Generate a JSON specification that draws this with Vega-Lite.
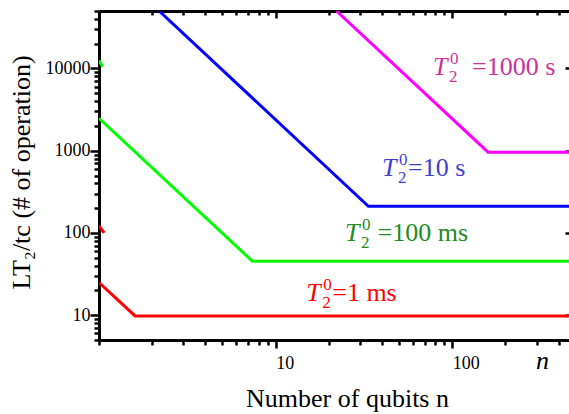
{
  "$schema": "https://vega.github.io/schema/vega-lite/v6.json",
  "width": 470,
  "height": 329,
  "autosize": "none",
  "padding": {"left": 99, "top": 11, "right": 0, "bottom": 74},
  "config": {"view": {"stroke": null}, "font": "Liberation Serif"},
  "datasets": {
    "lines": [
      {"series": "1 ms", "seg": "a", "n": 1, "v": 25},
      {"series": "1 ms", "seg": "a", "n": 1.6, "v": 9.8},
      {"series": "1 ms", "seg": "a", "n": 458, "v": 9.8},
      {"series": "1 ms", "seg": "b", "n": 1, "v": 122},
      {"series": "1 ms", "seg": "b", "n": 1.07, "v": 100},
      {"series": "100 ms", "seg": "a", "n": 1, "v": 2480},
      {"series": "100 ms", "seg": "a", "n": 7.39, "v": 45.4},
      {"series": "100 ms", "seg": "a", "n": 458, "v": 45.4},
      {"series": "100 ms", "seg": "b", "n": 1, "v": 12500},
      {"series": "100 ms", "seg": "b", "n": 1.05, "v": 10500},
      {"series": "10 s", "seg": "a", "n": 2.19, "v": 50000},
      {"series": "10 s", "seg": "a", "n": 33.5, "v": 211},
      {"series": "10 s", "seg": "a", "n": 458, "v": 211},
      {"series": "1000 s", "seg": "a", "n": 22.1, "v": 50000},
      {"series": "1000 s", "seg": "a", "n": 159.5, "v": 960},
      {"series": "1000 s", "seg": "a", "n": 458, "v": 960}
    ],
    "labels": [
      {"series": "1000 s", "n": 77.9, "v": 8280, "rest": "\u2060\u00a0\u00a0=1000 s"},
      {"series": "10 s", "n": 40, "v": 490, "rest": "=10 s"},
      {"series": "100 ms", "n": 24.7, "v": 79.4, "rest": "\u2060\u00a0=100 ms"},
      {"series": "1 ms", "n": 14.9, "v": 14.8, "rest": "=1 ms"}
    ]
  },
  "layer": [
    {
      "data": {"name": "lines"},
      "mark": {"type": "line", "strokeWidth": 3, "clip": true},
      "encoding": {
        "x": {
          "field": "n", "type": "quantitative",
          "scale": {"type": "log", "domain": [1, 458], "nice": false},
          "axis": {
            "orient": "bottom",
            "values": [1, 2, 3, 4, 5, 6, 7, 8, 9, 10, 20, 30, 40, 50, 60, 70, 80, 90, 100, 200, 300, 400],
            "labelExpr": "datum.value == 10 ? '10' : datum.value == 100 ? '100' : ''",
            "labelOverlap": false,
            "labelFlush": false,
            "labelAlign": "left",
            "labelBaseline": "alphabetic",
            "labelPadding": 20,
            "labelFontSize": 18,
            "labelColor": "black",
            "grid": false,
            "domainColor": "black",
            "domainWidth": 3,
            "tickColor": "black",
            "tickWidth": 2.5,
            "tickSize": {"condition": {"test": "datum.value == 10 || datum.value == 100", "value": 8}, "value": 5},
            "title": "Number of qubits n",
            "titleFontSize": 26,
            "titleFontWeight": "normal",
            "titleColor": "black",
            "titleX": 248,
            "titleY": 66,
            "titleBaseline": "alphabetic",
            "titleAlign": "center"
          }
        },
        "y": {
          "field": "v", "type": "quantitative",
          "scale": {"type": "log", "domain": [5, 50000], "nice": false},
          "axis": {
            "orient": "left",
            "values": [5, 6, 7, 8, 9, 10, 20, 30, 40, 50, 60, 70, 80, 90, 100, 200, 300, 400, 500, 600, 700, 800, 900, 1000, 2000, 3000, 4000, 5000, 6000, 7000, 8000, 9000, 10000, 20000, 30000, 40000, 50000],
            "labelExpr": "datum.value == 10 ? '10' : datum.value == 100 ? '100' : datum.value == 1000 ? '1000' : datum.value == 10000 ? '10000' : ''",
            "labelOverlap": false,
            "labelFlush": false,
            "labelFontSize": 18,
            "labelColor": "black",
            "labelPadding": 0,
            "grid": false,
            "domainColor": "black",
            "domainWidth": 3,
            "tickColor": "black",
            "tickWidth": 2.5,
            "tickSize": {"condition": {"test": "datum.value == 10 || datum.value == 100 || datum.value == 1000 || datum.value == 10000", "value": 9}, "value": 5},
            "title": "LT\u2082/tc (# of operation)",
            "titleFontSize": 26,
            "titleFontWeight": "normal",
            "titleColor": "black",
            "titleAngle": -90,
            "titleX": -70,
            "titleY": 161,
            "titleBaseline": "alphabetic",
            "titleAlign": "center"
          }
        },
        "color": {
          "field": "series", "type": "nominal", "legend": null,
          "scale": {"domain": ["1 ms", "100 ms", "10 s", "1000 s"], "range": ["#ff0000", "#00ff00", "#0000ff", "#ff00ff"]}
        },
        "detail": {"field": "seg"}
      }
    },
    {
      "data": {"name": "lines"},
      "mark": {"type": "point", "opacity": 0},
      "encoding": {
        "x": {
          "field": "n", "type": "quantitative",
          "scale": {"type": "log", "domain": [1, 458], "nice": false},
          "axis": {
            "orient": "top",
            "values": [1, 2, 3, 4, 5, 6, 7, 8, 9, 10, 20, 30, 40, 50, 60, 70, 80, 90, 100, 200, 300, 400],
            "labels": false,
            "grid": false,
            "domainColor": "black",
            "domainWidth": 3,
            "tickColor": "black",
            "tickWidth": 2.5,
            "tickSize": {"condition": {"test": "datum.value == 10 || datum.value == 100", "value": -7}, "value": -4},
            "title": null
          }
        },
        "y": {
          "field": "v", "type": "quantitative",
          "scale": {"type": "log", "domain": [5, 50000], "nice": false},
          "axis": {
            "orient": "right",
            "values": [10, 100, 1000, 10000],
            "labels": false,
            "domain": false,
            "grid": false,
            "tickColor": "black",
            "tickWidth": 2.5,
            "tickSize": -4,
            "title": null
          }
        }
      }
    },
    {
      "data": {"name": "lines"},
      "mark": {"type": "point", "opacity": 0},
      "encoding": {
        "x": {
          "field": "n", "type": "quantitative",
          "scale": {"type": "log", "domain": [1, 458], "nice": false},
          "axis": {
            "orient": "bottom",
            "values": [322],
            "labelExpr": "'n'",
            "labelFontSize": 26,
            "labelFontStyle": "italic",
            "labelColor": "black",
            "labelBaseline": "alphabetic",
            "labelPadding": 28,
            "labelFlush": false,
            "labelOverlap": false,
            "tickSize": 0,
            "ticks": false,
            "domain": false,
            "grid": false,
            "title": null
          }
        },
        "y": {"field": "v", "type": "quantitative", "scale": {"type": "log", "domain": [5, 50000], "nice": false}, "axis": null}
      }
    },
    {
      "data": {"name": "labels"},
      "mark": {"type": "text", "text": "T", "fontStyle": "italic", "fontSize": 26, "align": "left", "baseline": "alphabetic"},
      "encoding": {
        "x": {"field": "n", "type": "quantitative", "scale": {"type": "log", "domain": [1, 458], "nice": false}, "axis": null},
        "y": {"field": "v", "type": "quantitative", "scale": {"type": "log", "domain": [5, 50000], "nice": false}, "axis": null},
        "color": {"field": "series", "type": "nominal", "legend": null,
          "scale": {"domain": ["1 ms", "100 ms", "10 s", "1000 s"], "range": ["#ff0000", "#228b22", "#3f3fcf", "#cc3399"]}}
      }
    },
    {
      "data": {"name": "labels"},
      "mark": {"type": "text", "text": "2", "fontSize": 17, "align": "left", "baseline": "alphabetic", "dx": 16, "dy": 7},
      "encoding": {
        "x": {"field": "n", "type": "quantitative", "scale": {"type": "log", "domain": [1, 458], "nice": false}, "axis": null},
        "y": {"field": "v", "type": "quantitative", "scale": {"type": "log", "domain": [5, 50000], "nice": false}, "axis": null},
        "color": {"field": "series", "type": "nominal", "legend": null,
          "scale": {"domain": ["1 ms", "100 ms", "10 s", "1000 s"], "range": ["#ff0000", "#228b22", "#3f3fcf", "#cc3399"]}}
      }
    },
    {
      "data": {"name": "labels"},
      "mark": {"type": "text", "text": "0", "fontSize": 17, "align": "left", "baseline": "alphabetic", "dx": 17, "dy": -11},
      "encoding": {
        "x": {"field": "n", "type": "quantitative", "scale": {"type": "log", "domain": [1, 458], "nice": false}, "axis": null},
        "y": {"field": "v", "type": "quantitative", "scale": {"type": "log", "domain": [5, 50000], "nice": false}, "axis": null},
        "color": {"field": "series", "type": "nominal", "legend": null,
          "scale": {"domain": ["1 ms", "100 ms", "10 s", "1000 s"], "range": ["#ff0000", "#228b22", "#3f3fcf", "#cc3399"]}}
      }
    },
    {
      "data": {"name": "labels"},
      "mark": {"type": "text", "fontSize": 26, "align": "left", "baseline": "alphabetic", "dx": 26},
      "encoding": {
        "x": {"field": "n", "type": "quantitative", "scale": {"type": "log", "domain": [1, 458], "nice": false}, "axis": null},
        "y": {"field": "v", "type": "quantitative", "scale": {"type": "log", "domain": [5, 50000], "nice": false}, "axis": null},
        "text": {"field": "rest"},
        "color": {"field": "series", "type": "nominal", "legend": null,
          "scale": {"domain": ["1 ms", "100 ms", "10 s", "1000 s"], "range": ["#ff0000", "#228b22", "#3f3fcf", "#cc3399"]}}
      }
    }
  ],
  "resolve": {"axis": {"x": "independent", "y": "independent"}, "scale": {"color": "independent"}}
}
